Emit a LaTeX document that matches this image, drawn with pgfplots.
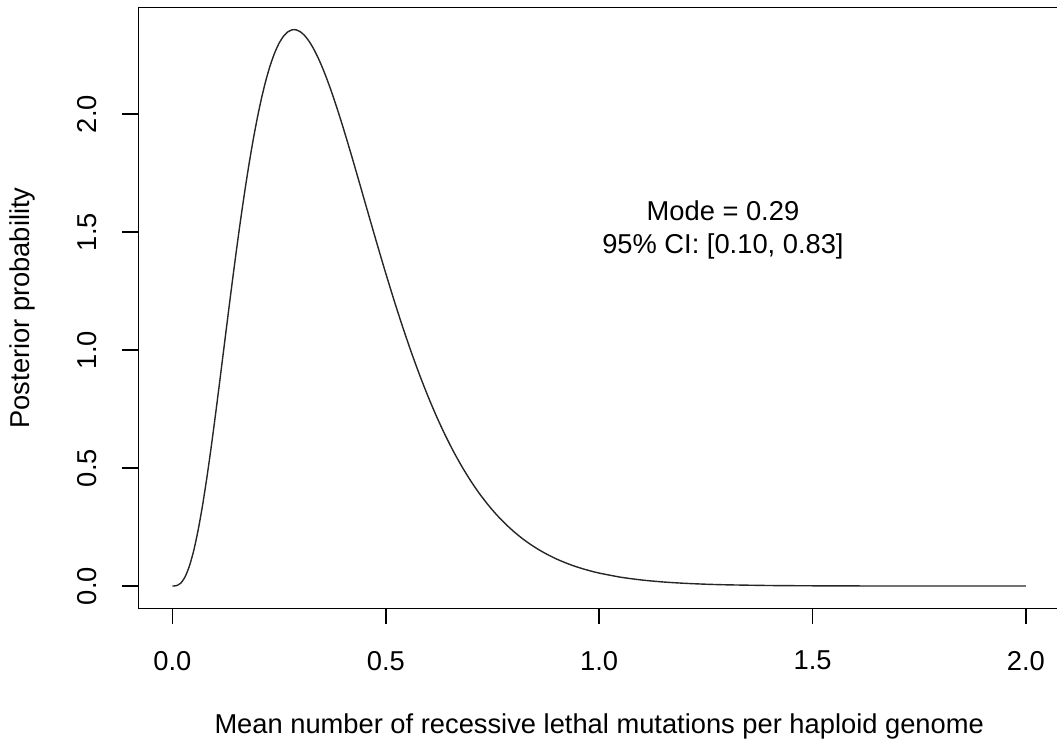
\documentclass[border=0pt]{standalone}
\usepackage{fontspec}
\setmainfont{Liberation Sans}
\usepackage{pgfplots}
\pgfplotsset{compat=1.18}

% posterior density
\begin{document}
\begin{tikzpicture}[font=\fontsize{13.65}{16.5}\selectfont]
\begin{axis}[
    at={(0,0)}, anchor=south west,
    scale only axis,
    width=460.9pt, height=300.3pt,
    xmin=-0.08, xmax=2.08,
    ymin=-0.0943, ymax=2.4513,
    xtick={0,0.5,1,1.5,2}, xticklabels={0.0,0.5,1.0,1.5,2.0},
    ytick={0,0.5,1,1.5,2}, yticklabels={0.0,0.5,1.0,1.5,2.0},
    tick align=outside, tick pos=left,
    major tick length=8pt,
    every tick/.style={black, line width=0.75pt},
    axis line style={black, line width=0.75pt},
    xticklabel style={inner sep=0pt, anchor=north},
    yticklabel style={inner sep=0pt, rotate=90, anchor=south},
    xticklabel shift=13.2pt, yticklabel shift=12.8pt,
    xlabel={Mean number of recessive lethal mutations per haploid genome},
    ylabel={Posterior probability},
    xlabel style={at={(axis description cs:0.5,-0.2093)}, anchor=base},
    ylabel style={at={(axis description cs:-0.1176,0.5)}, anchor=base},
]
\addplot[black!85, line width=0.7pt, smooth, tension=0.4] coordinates {
    (0.00,0.0000) (0.01,0.0018) (0.02,0.0133) (0.03,0.0403) (0.04,0.0860)
    (0.05,0.1511) (0.06,0.2350) (0.07,0.3359) (0.08,0.4513) (0.09,0.5784)
    (0.10,0.7141) (0.11,0.8555) (0.12,0.9997) (0.13,1.1441) (0.14,1.2862)
    (0.15,1.4239) (0.16,1.5554) (0.17,1.6793) (0.18,1.7942) (0.19,1.8993)
    (0.20,1.9939) (0.21,2.0776) (0.22,2.1502) (0.23,2.2114) (0.24,2.2615)
    (0.25,2.3009) (0.26,2.3296) (0.27,2.3482) (0.28,2.3572) (0.285,2.3582)
    (0.29,2.3572) (0.30,2.3489) (0.31,2.3326) (0.32,2.3093) (0.33,2.2796)
    (0.34,2.2440) (0.35,2.2034) (0.36,2.1581) (0.37,2.1090) (0.38,2.0564)
    (0.39,2.0008) (0.40,1.9431) (0.42,1.8224) (0.44,1.6975) (0.46,1.5715)
    (0.48,1.4466) (0.50,1.3246) (0.52,1.2071) (0.54,1.0952) (0.56,0.9896)
    (0.58,0.8907) (0.60,0.7989) (0.62,0.7141) (0.64,0.6364) (0.66,0.5654)
    (0.68,0.5011) (0.70,0.4427) (0.72,0.3903) (0.74,0.3433) (0.76,0.3013)
    (0.78,0.2639) (0.80,0.2307) (0.82,0.2012) (0.84,0.1753) (0.86,0.1524)
    (0.88,0.1323) (0.90,0.1146) (0.92,0.0992) (0.94,0.0857) (0.96,0.0740)
    (0.98,0.0638) (1.00,0.0549) (1.05,0.0375) (1.10,0.0255) (1.15,0.0172)
    (1.20,0.0116) (1.25,0.0077) (1.30,0.0051) (1.40,0.0022) (1.50,0.0010)
    (1.60,0.0004) (1.70,0.0002) (1.80,0.0001) (1.90,0.0000) (2.00,0.0000)
};
\node[align=center] at (axis cs:1.29,1.508) {Mode = 0.29\\95\% CI: [0.10, 0.83]};
\end{axis}
\pgfresetboundingbox
\useasboundingbox (-69.15pt,-69.35pt) rectangle (459.35pt,304.15pt);
\end{tikzpicture}
\end{document}
